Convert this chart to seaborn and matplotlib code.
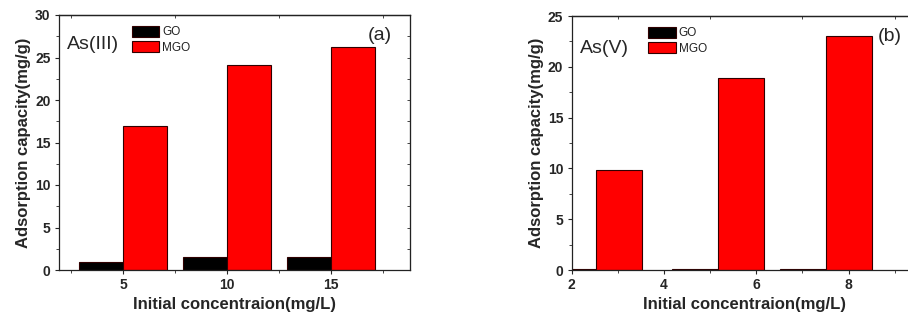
import numpy as np
import pandas as pd
import matplotlib
matplotlib.use('Agg')
import matplotlib.pyplot as plt
import seaborn as sns
from matplotlib.ticker import MultipleLocator, FixedLocator

sns.set_style('ticks')
plt.rcParams['font.family'] = ['Liberation Sans', 'DejaVu Sans']

# Panel (a): As(III)
conc_a = ['5', '10', '15']
go_a = [0.9, 1.55, 1.55]
mgo_a = [17.0, 24.1, 26.2]

# Panel (b): As(V)
conc_b = [2.52, 5.17, 7.51]
go_b = [0.1, 0.1, 0.1]
mgo_b = [9.8, 18.9, 23.0]

df_a = pd.DataFrame({'conc': conc_a * 2, 'q': go_a + mgo_a,
                     'sample': ['GO'] * 3 + ['MGO'] * 3})
df_b = pd.DataFrame({'conc': conc_b * 2, 'q': go_b + mgo_b,
                     'sample': ['GO'] * 3 + ['MGO'] * 3})

pal = {'GO': 'black', 'MGO': '#ff0000'}
W, H = 908, 325
fig = plt.figure(figsize=(W / 100, H / 100), dpi=100)
ax1 = fig.add_axes([59 / W, 55 / H, 351 / W, 255 / H])
ax2 = fig.add_axes([571.7 / W, 55 / H, 346 / W, 254 / H])

sns.barplot(data=df_a, x='conc', y='q', hue='sample', palette=pal, width=0.84,
            saturation=1, edgecolor='#300000', linewidth=0.8, ax=ax1)
sns.barplot(data=df_b, x='conc', y='q', hue='sample', palette=pal, width=0.855,
            saturation=1, native_scale=True, edgecolor='#300000', linewidth=0.8, ax=ax2)

ax1.set_xlim(-0.615, 2.76)
ax1.set_ylim(0, 30)
ax1.xaxis.set_minor_locator(FixedLocator([-0.5, 0.5, 1.5, 2.5]))
ax1.yaxis.set_major_locator(MultipleLocator(5))
ax1.yaxis.set_minor_locator(MultipleLocator(2.5))

ax2.set_xlim(2, 9.5)
ax2.set_ylim(0, 25)
ax2.xaxis.set_major_locator(FixedLocator([2, 4, 6, 8]))
ax2.xaxis.set_minor_locator(FixedLocator([3, 5, 7, 9]))
ax2.yaxis.set_major_locator(MultipleLocator(5))
ax2.yaxis.set_minor_locator(MultipleLocator(2.5))

for ax, lx in [(ax1, 0.185), (ax2, 0.198)]:
    ax.set_xlabel('Initial concentraion(mg/L)', fontsize=12, fontweight='bold', labelpad=3)
    ax.set_ylabel('Adsorption capacity(mg/g)', fontsize=12, fontweight='bold', labelpad=3)
    ax.tick_params(which='major', length=3, width=0.8, labelsize=10, pad=3)
    ax.tick_params(which='minor', length=2, width=0.6)
    for lab in ax.get_xticklabels() + ax.get_yticklabels():
        lab.set_fontweight('bold')
    for s in ax.spines.values():
        s.set_visible(True)
        s.set_linewidth(0.9)
        s.set_color('#222222')
    sns.move_legend(ax, 'upper left', bbox_to_anchor=(lx, 0.99), title=None,
                    frameon=False, fontsize=8.5, handlelength=2.3, handleheight=1.05,
                    handletextpad=0.25, labelspacing=0.25, borderaxespad=0.3)
    for t in ax.get_legend().get_texts():
        t.set_color('#222222')

    sec = ax.secondary_xaxis('top')
    sec.set_xticks(ax.get_xticks(minor=True), labels=[])
    sec.tick_params(direction='in', length=2, width=0.6)
    sec.spines['top'].set_linewidth(0.9)

ax1.text(0.022, 0.865, 'As(III)', transform=ax1.transAxes, fontsize=14)
ax1.text(0.88, 0.9, '(a)', transform=ax1.transAxes, fontsize=14)
ax2.text(0.025, 0.855, 'As(V)', transform=ax2.transAxes, fontsize=14)
ax2.text(0.885, 0.9, '(b)', transform=ax2.transAxes, fontsize=14)

secy = ax1.secondary_yaxis('right')
secy.set_yticks(np.arange(0, 30.1, 2.5), labels=[])
secy.tick_params(direction='in', length=2, width=0.6)
secy.spines['right'].set_color('#777777')

fig.savefig('out.png', dpi=100)
